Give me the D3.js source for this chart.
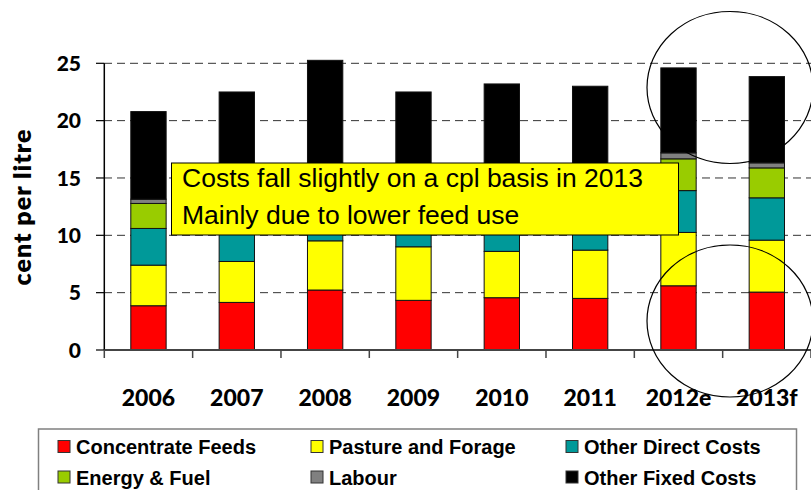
<!DOCTYPE html>
<html>
<head>
<meta charset="utf-8">
<title>Dairy costs per litre</title>
<script src="https://cdn.jsdelivr.net/npm/d3@7"></script>
<style>
  body { margin: 0; background: #fff; }
  svg { display: block; }
</style>
</head>
<body>
<script>
    var width = 811;
    var height = 490;

    // values (cent per litre)
    var years = ["2006","2007","2008","2009","2010","2011","2012e","2013f"];
    var concentrateFeeds = [3.86, 4.15, 5.23, 4.33, 4.56, 4.50, 5.60, 5.05];
    var pastureForage    = [3.54, 3.57, 4.29, 4.67, 4.04, 4.21, 4.65, 4.53];
    var otherDirect      = [3.20, 3.28, 3.48, 3.40, 3.40, 3.50, 3.65, 3.69];
    var energyFuel       = [2.18, 2.20, 2.50, 2.30, 2.30, 2.40, 2.77, 2.61];
    var labour           = [0.37, 0.40, 0.45, 0.45, 0.45, 0.45, 0.52, 0.44];
    var otherFixed       = [7.64, 8.90, 9.31, 7.35, 8.45, 7.94, 7.41, 7.52];
    var yTicks = [0, 5, 10, 15, 20, 25];

    var seriesNames = ["Concentrate Feeds","Pasture and Forage","Other Direct Costs",
                       "Energy & Fuel","Labour","Other Fixed Costs"];
    var seriesColors = ["#ff0000","#ffff00","#009999","#99cc00","#808080","#000000"];
    var seriesValues = [concentrateFeeds, pastureForage, otherDirect, energyFuel, labour, otherFixed];

    var note = ["Costs fall slightly on a cpl basis in 2013", "Mainly due to lower feed use"];

    // build rows for d3.stack
    var rows = years.map(function(y, i) {
        var r = { year: y };
        seriesNames.forEach(function(n, k) { r[n] = seriesValues[k][i]; });
        return r;
    });
    var stacked = d3.stack().keys(seriesNames)(rows);

    var svg = d3.select("body").append("svg")
        .attr("width", width)
        .attr("height", height);

    var x = d3.scaleBand()
        .domain(years)
        .range([104.3, 811])
        .paddingInner(0.6)
        .paddingOuter(0.3);

    var y = d3.scaleLinear()
        .domain([0, 25])
        .range([350, 63.3]);

    // dashed gridlines
    svg.append("g").selectAll("line")
        .data(yTicks.filter(function(t) { return t > 0; }))
        .enter().append("line")
        .attr("x1", 104).attr("x2", 811)
        .attr("y1", function(d) { return y(d); })
        .attr("y2", function(d) { return y(d); })
        .attr("stroke", "#333")
        .attr("stroke-width", 1)
        .attr("stroke-dasharray", "8,5");

    // bars
    var layers = svg.append("g").selectAll("g")
        .data(stacked)
        .enter().append("g")
        .attr("fill", function(d, i) { return seriesColors[i]; });

    layers.selectAll("rect")
        .data(function(d) { return d; })
        .enter().append("rect")
        .attr("x", function(d) { return x(d.data.year); })
        .attr("width", x.bandwidth())
        .attr("y", function(d) { return y(d[1]); })
        .attr("height", function(d) { return y(d[0]) - y(d[1]); })
        .attr("stroke", "#111")
        .attr("stroke-width", 1);

    // y axis
    var yAxis = svg.append("g");
    yAxis.append("line")
        .attr("x1", 104.3).attr("x2", 104.3)
        .attr("y1", y(25)).attr("y2", y(0))
        .attr("stroke", "#000").attr("stroke-width", 1.5);
    yAxis.selectAll(".tick")
        .data(yTicks)
        .enter().append("line")
        .attr("x1", 96).attr("x2", 104)
        .attr("y1", function(d) { return y(d); })
        .attr("y2", function(d) { return y(d); })
        .attr("stroke", "#000").attr("stroke-width", 1.2);
    yAxis.selectAll("text")
        .data(yTicks)
        .enter().append("text")
        .attr("x", 81)
        .attr("y", function(d) { return y(d); })
        .attr("dy", "0.36em")
        .attr("text-anchor", "end")
        .style("font-family", "Lato, sans-serif")
        .style("font-weight", 900)
        .style("font-size", "21px")
        .text(function(d) { return d; });

    svg.append("text")
        .attr("transform", "translate(31,207) rotate(-90)")
        .attr("text-anchor", "middle")
        .style("font-family", "Lato, sans-serif")
        .style("font-weight", 800)
        .style("font-size", "25px")
        .style("letter-spacing", "1px")
        .text("cent per litre");

    // x axis with ticks between categories
    var xAxis = svg.append("g");
    xAxis.append("line")
        .attr("x1", 104.3).attr("x2", 811)
        .attr("y1", 350).attr("y2", 350)
        .attr("stroke", "#444").attr("stroke-width", 2);
    xAxis.selectAll(".tick")
        .data(d3.range(years.length + 1))
        .enter().append("line")
        .attr("x1", function(i) { return 104.3 + i * x.step(); })
        .attr("x2", function(i) { return 104.3 + i * x.step(); })
        .attr("y1", 350).attr("y2", 358)
        .attr("stroke", "#444").attr("stroke-width", 1.5);
    xAxis.selectAll("text")
        .data(years)
        .enter().append("text")
        .attr("x", function(d) { return x(d) + x.bandwidth() / 2; })
        .attr("y", 406)
        .attr("text-anchor", "middle")
        .style("font-family", "Lato, sans-serif")
        .style("font-weight", 900)
        .style("font-size", "23px")
        .text(function(d) { return d; });

    // annotation box
    var box = svg.append("g");
    box.append("rect")
        .attr("x", 171.5).attr("y", 163)
        .attr("width", 507).attr("height", 72)
        .attr("fill", "#ffff00")
        .attr("stroke", "#000").attr("stroke-width", 1);
    box.selectAll("text")
        .data(note)
        .enter().append("text")
        .attr("x", 182)
        .attr("y", function(d, i) { return 187 + i * 36.5; })
        .style("font-family", "'Liberation Sans', Arial, sans-serif")
        .style("font-size", "26.5px")
        .text(function(d) { return d; });

    // legend
    var legend = svg.append("g");
    legend.append("rect")
        .attr("x", 38.5).attr("y", 429)
        .attr("width", 758).attr("height", 70)
        .attr("fill", "#fff")
        .attr("stroke", "#808080").attr("stroke-width", 1.5);
    var colX = [58, 311, 566];
    var rowY = [440.5, 471];
    var items = legend.selectAll(".item")
        .data(seriesNames)
        .enter().append("g")
        .attr("transform", function(d, i) {
            return "translate(" + colX[i % 3] + "," + rowY[Math.floor(i / 3)] + ")";
        });
    items.append("rect")
        .attr("width", 12).attr("height", 12)
        .attr("fill", function(d, i) { return seriesColors[i]; })
        .attr("stroke", "#333").attr("stroke-width", 1);
    items.append("text")
        .attr("x", 18)
        .attr("y", 13.5)
        .style("font-family", "'Liberation Sans', Arial, sans-serif")
        .style("font-weight", "bold")
        .style("font-size", "20px")
        .text(function(d) { return d; });

    // hand drawn circles on the last two years
    svg.append("g").selectAll("ellipse")
        .data([87.5, 321])
        .enter().append("ellipse")
        .attr("cx", 730).attr("cy", function(d) { return d; })
        .attr("rx", 83).attr("ry", 76)
        .attr("fill", "none")
        .attr("stroke", "#000").attr("stroke-width", 1.2);
</script>
</body>
</html>
